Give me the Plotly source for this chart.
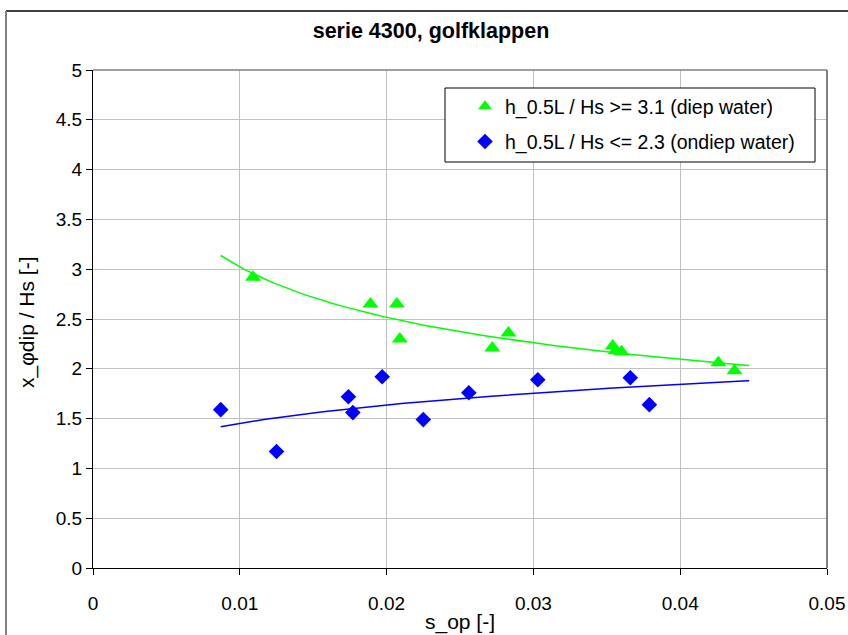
import numpy as np
import plotly.graph_objects as go

# Deep water measurements (h_0.5L / Hs >= 3.1)
deep_s_op = [0.0109, 0.0189, 0.0207, 0.0209, 0.0272, 0.0283, 0.0354, 0.0356, 0.0360, 0.0426, 0.0437]
deep_xdip = [2.92, 2.65, 2.65, 2.30, 2.21, 2.36, 2.23, 2.18, 2.17, 2.06, 1.98]

# Shallow water measurements (h_0.5L / Hs <= 2.3)
shallow_s_op = [0.0087, 0.0125, 0.0174, 0.0177, 0.0197, 0.0225, 0.0256, 0.0303, 0.0366, 0.0379]
shallow_xdip = [1.59, 1.17, 1.72, 1.56, 1.92, 1.49, 1.76, 1.89, 1.91, 1.64]

# Span of the power-law trend lines
trend_range = [0.0087, 0.0447]

x_ticks = [0, 0.01, 0.02, 0.03, 0.04, 0.05]
x_tick_text = ["0", "0.01", "0.02", "0.03", "0.04", "0.05"]
y_ticks = [0, 0.5, 1, 1.5, 2, 2.5, 3, 3.5, 4, 4.5, 5]
y_tick_text = ["0", "0.5", "1", "1.5", "2", "2.5", "3", "3.5", "4", "4.5", "5"]

GREEN = "#00ff00"
BLUE = "#0000ff"
FONT = "Liberation Sans, Arial, sans-serif"

W, H = 848, 635
ML, MR, MT, MB = 93, 21, 70, 67
PW, PH = W - ML - MR, H - MT - MB


def px_x(px):
    """Horizontal pixel position -> paper coordinate."""
    return (px - ML) / PW


def px_y(py):
    """Vertical pixel position -> paper coordinate."""
    return 1 - (py - MT) / PH


def power_trend(xs, ys, x_range, n=80):
    """Least-squares fit of y = a * x^b in log-log space."""
    b, ln_a = np.polyfit(np.log(xs), np.log(ys), 1)
    xt = np.linspace(x_range[0], x_range[1], n)
    return xt, np.exp(ln_a) * xt ** b


fig = go.Figure()

gx, gy = power_trend(deep_s_op, deep_xdip, trend_range)
bx, by = power_trend(shallow_s_op, shallow_xdip, trend_range)

fig.add_trace(go.Scatter(x=gx, y=gy, mode="lines", line=dict(color=GREEN, width=1.5),
                         showlegend=False, hoverinfo="skip"))
fig.add_trace(go.Scatter(x=bx, y=by, mode="lines", line=dict(color=BLUE, width=1.5),
                         showlegend=False, hoverinfo="skip"))

fig.add_trace(go.Scatter(
    x=deep_s_op, y=deep_xdip, mode="markers", legendgroup="deep",
    name="h_0.5L / Hs >= 3.1 (diep water)",
    marker=dict(symbol="triangle-up", size=14, color=GREEN, line=dict(width=0)),
))
fig.add_trace(go.Scatter(
    x=shallow_s_op, y=shallow_xdip, mode="markers", legendgroup="shallow",
    name="h_0.5L / Hs <= 2.3 (ondiep water)",
    marker=dict(symbol="diamond", size=12, color=BLUE, line=dict(width=0)),
))

axis_common = dict(
    showgrid=True, gridcolor="#c0c0c0", gridwidth=1,
    showline=True, linecolor="#000000", linewidth=1,
    ticks="outside", ticklen=6, tickcolor="#000000",
    tickfont=dict(family=FONT, size=19, color="#000000"),
    zeroline=False, mirror=False, automargin=False,
)

fig.update_xaxes(range=[0, 0.05], tickvals=x_ticks, ticktext=x_tick_text,
                 ticklabelstandoff=12, **axis_common)
fig.update_yaxes(range=[0, 5], tickvals=y_ticks, ticktext=y_tick_text, **axis_common)

title_font = dict(family=FONT, size=21, color="#000000")

fig.update_layout(
    width=W, height=H,
    margin=dict(l=ML, r=MR, t=MT, b=MB),
    paper_bgcolor="white", plot_bgcolor="white",
    title=dict(text="<b>serie 4300, golfklappen</b>", x=431 / W, xref="container",
               xanchor="center", y=1 - 30 / H, yanchor="middle",
               font=dict(family=FONT, size=21.5, color="#000000")),
    legend=dict(
        x=px_x(465), y=px_y(87), xanchor="left", yanchor="top",
        bgcolor="rgba(0,0,0,0)", borderwidth=0,
        font=dict(family=FONT, size=19.5, color="#000000"),
        itemsizing="constant", tracegroupgap=7,
    ),
    annotations=[
        dict(text="s_op [-]", xref="paper", yref="paper",
             x=0.5, y=px_y(622), xanchor="center", yanchor="middle",
             showarrow=False, font=title_font),
        dict(text="x_φdip / Hs [-]", xref="paper", yref="paper",
             x=px_x(27), y=px_y(322), xanchor="center", yanchor="middle",
             textangle=-90, showarrow=False, font=title_font),
    ],
    shapes=[
        # legend box
        dict(type="rect", xref="paper", yref="paper",
             x0=px_x(445), x1=px_x(815), y0=px_y(162), y1=px_y(88),
             fillcolor="white", line=dict(color="#000000", width=1), layer="above"),
        # plot-area frame on top and right
        dict(type="line", xref="paper", yref="paper", x0=0, x1=1, y0=1, y1=1,
             line=dict(color="#808080", width=1.5)),
        dict(type="line", xref="paper", yref="paper", x0=1, x1=1, y0=0, y1=1,
             line=dict(color="#808080", width=2)),
        # outer chart frame
        dict(type="line", xref="paper", yref="paper",
             x0=px_x(6), x1=1.1, y0=px_y(11), y1=px_y(11),
             line=dict(color="#000000", width=1.5)),
        dict(type="line", xref="paper", yref="paper",
             x0=px_x(6), x1=px_x(6), y0=-0.2, y1=px_y(11),
             line=dict(color="#808080", width=2)),
    ],
    showlegend=True,
)

fig.write_html("out.html")
